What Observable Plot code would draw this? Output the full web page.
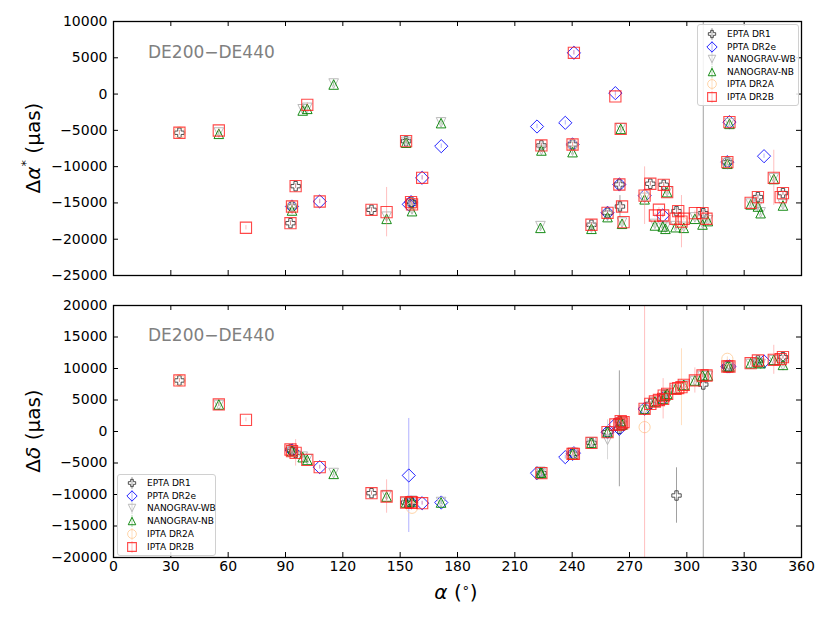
<!DOCTYPE html>
<html><head><meta charset="utf-8">
<script src="https://cdn.jsdelivr.net/npm/d3@7"></script>
<script src="https://cdn.jsdelivr.net/npm/@observablehq/plot@0.6"></script>
<style>
body{margin:0;background:#fff;font-family:"DejaVu Sans",sans-serif;}
#wrap{position:relative;width:830px;height:623px;overflow:hidden;background:#fff;}
.note{position:absolute;font-size:17px;color:#808080;white-space:nowrap;}
.ylab{position:absolute;font-size:20px;white-space:nowrap;transform:translate(-50%,-50%) rotate(-90deg);}
.xlab{position:absolute;font-size:20px;white-space:nowrap;transform:translate(-50%,-50%);}
.leg{position:absolute;background:rgba(255,255,255,0.85);border:1px solid #d0d0d0;border-radius:3px;font-size:9px;}
.leg .row{position:absolute;left:0;height:12px;line-height:12px;white-space:nowrap;}
.leg svg{position:absolute;left:6px;top:-1px;}
.leg span{position:absolute;left:29px;top:0;}
</style></head><body><div id="wrap"></div>
<script>
// ---------- data ----------
const xTicks = [0, 30, 60, 90, 120, 150, 180, 210, 240, 270, 300, 330, 360];
const yTicksTop = [-25000, -20000, -15000, -10000, -5000, 0, 5000, 10000];
const yTicksBottom = [-20000, -15000, -10000, -5000, 0, 5000, 10000, 15000, 20000];
const seriesNames = ["EPTA DR1", "PPTA DR2e", "NANOGRAV-WB", "NANOGRAV-NB", "IPTA DR2A", "IPTA DR2B"];
const panelNote = "DE200\u2212DE440";

// rows: [alpha (deg), dAlpha*, err, dDelta, err]  (uas)
const eptaDR1 = [
  [34.5, -5330, 300, 8100, 300],
  [92.6, -17790, 300, -2860, 300],
  [93.4, -15490, 300, -3120, 300],
  [95.3, -12690, 300, -3390, 300],
  [135.0, -15950, 300, -9790, 300],
  [153.1, -6490, 300, -11270, 300],
  [155.7, -14890, 300, -11270, 300],
  [156.2, -15100, 300, -11270, 300],
  [223.9, -7080, 300, -6610, 300],
  [240.2, -6950, 300, -3540, 300],
  [250.1, -18010, 300, -1800, 300],
  [258.5, -16360, 300, -100, 300],
  [264.7, -12460, 300, 430, 9200],
  [265.0, -15490, 1500, 1640, 300],
  [280.9, -12360, 300, 4390, 300],
  [287.9, -12500, 300, 5710, 300],
  [294.6, -16130, 500, -10160, 4400],
  [308.6, -16410, 60000, 7460, 60000],
  [321.2, -9380, 300, 10320, 300],
  [337.2, -14200, 300, 11270, 300],
  [350.3, -13650, 300, 11800, 300]
];
const pptaDR2e = [
  [93.4, -15490, 300, -3000, 300],
  [107.9, -14800, 300, -5660, 300],
  [154.5, -15200, 600, -6980, 9050],
  [155.7, -14890, 300, -11270, 300],
  [161.5, -11540, 300, -11380, 300],
  [171.5, -7180, 300, -11270, 300],
  [221.6, -4470, 300, -6610, 300],
  [236.4, -3960, 300, -4070, 300],
  [240.2, -6950, 300, -3540, 300],
  [240.9, 5690, 300, -3450, 300],
  [258.5, -16360, 300, -100, 300],
  [262.6, 130, 300, 1110, 300],
  [264.7, -12460, 300, 430, 300],
  [277.9, -14000, 300, 3600, 300],
  [287.4, -16730, 300, 5190, 300],
  [321.2, -9380, 300, 10320, 300],
  [322.3, -3870, 300, 10320, 300],
  [340.4, -8560, 300, 11110, 300]
];
const nanogravWB = [
  [55.1, -5300, 300, 4200, 300],
  [93.4, -15800, 300, -3000, 300],
  [99.0, -2100, 300, -4000, 300],
  [101.4, -1900, 300, -4400, 300],
  [115.2, 1450, 300, -6600, 300],
  [142.9, -16900, 500, -10100, 500],
  [153.1, -6600, 300, -11200, 300],
  [156.2, -15900, 300, -11000, 300],
  [171.4, -3900, 300, -11200, 300],
  [223.4, -18200, 300, -6400, 300],
  [223.9, -7700, 300, -6500, 300],
  [240.2, -7800, 300, -3400, 300],
  [250.1, -18400, 300, -1700, 300],
  [258.5, -16800, 300, -1320, 3170],
  [265.4, -4700, 300, 1500, 300],
  [266.1, -17700, 300, 900, 300],
  [277.9, -14300, 300, 3400, 300],
  [283.3, -17900, 300, 4600, 300],
  [287.4, -18100, 300, 5100, 300],
  [288.8, -18400, 300, 5600, 300],
  [289.7, -13400, 300, 5900, 300],
  [294.1, -18200, 300, 6600, 300],
  [298.4, -18300, 300, 7300, 300],
  [304.2, -17000, 300, 8000, 300],
  [308.2, -17800, 300, 8800, 300],
  [311.0, -17400, 300, 8800, 300],
  [321.2, -9500, 300, 10200, 300],
  [322.3, -4000, 300, 10200, 300],
  [333.4, -15100, 300, 10700, 300],
  [337.2, -15300, 300, 10900, 300],
  [338.6, -16300, 300, 10700, 300],
  [345.5, -11600, 300, 11300, 300],
  [350.3, -15200, 300, 10500, 300]
];
const nanogravNB = [
  [55.1, -5470, 300, 4290, 300],
  [93.4, -16040, 300, -3120, 300],
  [99.0, -2260, 300, -4070, 300],
  [101.4, -2030, 300, -4500, 300],
  [115.2, 1320, 300, -6720, 300],
  [142.9, -17190, 400, -10320, 400],
  [153.1, -6700, 300, -11270, 300],
  [156.2, -16130, 300, -11100, 300],
  [171.4, -4000, 300, -11270, 300],
  [223.4, -18430, 300, -6500, 300],
  [223.9, -7770, 300, -6610, 300],
  [240.2, -8000, 300, -3540, 300],
  [250.1, -18560, 300, -1800, 300],
  [258.5, -16950, 300, -100, 300],
  [265.4, -4790, 300, 1640, 300],
  [266.1, -17870, 300, 1100, 300],
  [277.9, -14500, 300, 3600, 300],
  [283.3, -18100, 300, 4760, 300],
  [287.4, -18240, 300, 5190, 300],
  [288.8, -18560, 300, 5710, 300],
  [289.7, -13510, 300, 5980, 300],
  [294.1, -18340, 300, 6770, 300],
  [298.4, -18430, 300, 7400, 300],
  [304.2, -17180, 300, 8100, 300],
  [308.2, -17970, 300, 8890, 300],
  [311.0, -17500, 300, 8890, 300],
  [321.2, -9600, 300, 10320, 300],
  [322.3, -4100, 300, 10320, 300],
  [333.4, -15200, 300, 10840, 300],
  [337.2, -15490, 300, 11000, 300],
  [338.6, -16410, 300, 10840, 300],
  [345.5, -11700, 300, 11380, 300],
  [350.3, -15350, 300, 10580, 300]
];
const iptaDR2A = [
  [34.5, -5300, 300, 8100, 300],
  [93.4, -15500, 300, -3100, 300],
  [156.2, -15100, 300, -12110, 300],
  [240.2, -7000, 300, -3500, 300],
  [277.9, -14000, 500, 690, 500],
  [297.2, -17580, 300, 7030, 6100],
  [321.2, -9400, 300, 11540, 300]
];
const iptaDR2B = [
  [34.5, -5330, 300, 8100, 300],
  [55.1, -5020, 300, 4290, 300],
  [69.3, -18420, 300, 1850, 300],
  [92.6, -17790, 300, -2860, 300],
  [93.4, -15490, 300, -3120, 300],
  [95.3, -12690, 300, -3390, 2100],
  [101.4, -1480, 300, -4500, 300],
  [107.9, -14800, 300, -5660, 300],
  [135.0, -15950, 300, -9790, 300],
  [142.9, -16270, 3400, -10320, 2650],
  [153.1, -6490, 300, -11270, 300],
  [155.7, -14890, 300, -11270, 300],
  [156.2, -15200, 300, -11270, 300],
  [161.5, -11540, 300, -11380, 300],
  [223.9, -7080, 300, -6610, 300],
  [240.2, -6950, 300, -3540, 300],
  [240.9, 5690, 300, -3540, 300],
  [250.1, -18010, 300, -1800, 300],
  [258.5, -16360, 300, -100, 300],
  [262.6, -330, 300, 1110, 300],
  [264.7, -12460, 300, 1110, 300],
  [265.4, -4790, 300, 1640, 300],
  [266.1, -15490, 300, 1300, 300],
  [266.9, -17650, 300, 1500, 300],
  [277.9, -14000, 3970, 3600, 60000],
  [280.9, -12360, 300, 4390, 300],
  [283.3, -16730, 300, 4760, 300],
  [285.4, -15940, 300, 5000, 300],
  [287.6, -16730, 300, 5190, 3200],
  [287.9, -12500, 300, 5710, 300],
  [289.7, -13510, 300, 5980, 300],
  [294.1, -17180, 300, 6770, 300],
  [295.5, -16130, 300, 6900, 300],
  [297.2, -17580, 3600, 7030, 300],
  [298.4, -17180, 300, 7400, 300],
  [304.2, -16410, 300, 8100, 2000],
  [308.2, -16410, 300, 8890, 300],
  [310.3, -17180, 300, 8890, 300],
  [321.2, -9380, 300, 10320, 300],
  [322.3, -3870, 300, 10320, 300],
  [333.4, -14980, 300, 10840, 300],
  [337.2, -14200, 300, 11270, 300],
  [345.5, -11540, 3800, 11380, 2300],
  [349.1, -14200, 300, 11500, 300],
  [350.3, -13650, 300, 11800, 300]
];

// ---------- symbols ----------
const rad = size => Math.sqrt(size / Math.PI);
const symPlus = {draw(c, size) { const r = rad(size), t = r * 0.36;
  c.moveTo(-t, -r); c.lineTo(t, -r); c.lineTo(t, -t); c.lineTo(r, -t); c.lineTo(r, t); c.lineTo(t, t);
  c.lineTo(t, r); c.lineTo(-t, r); c.lineTo(-t, t); c.lineTo(-r, t); c.lineTo(-r, -t); c.lineTo(-t, -t); c.closePath(); }};
const symDiamond = {draw(c, size) { const r = rad(size);
  c.moveTo(0, -r); c.lineTo(r, 0); c.lineTo(0, r); c.lineTo(-r, 0); c.closePath(); }};
const symTriUp = {draw(c, size) { const r = rad(size);
  c.moveTo(0, -r); c.lineTo(r, r); c.lineTo(-r, r); c.closePath(); }};
const symTriDown = {draw(c, size) { const r = rad(size);
  c.moveTo(0, r); c.lineTo(r, -r); c.lineTo(-r, -r); c.closePath(); }};
const symSquare = {draw(c, size) { const r = rad(size); c.rect(-r, -r, 2 * r, 2 * r); }};
const symCircle = {draw(c, size) { const r = rad(size); c.moveTo(r, 0); c.arc(0, 0, r, 0, 2 * Math.PI); c.closePath(); }};

const toRows = a => a.map(([ra, dA, eA, dD, eD]) => ({ra, dA, eA, dD, eD}));
const series = [
  {name: seriesNames[0], rows: toRows(eptaDR1), sym: symPlus, r: 4.7, color: "#333333", op: 0.85, sw: 1, err: "#8a8a8a", eop: 0.8},
  {name: seriesNames[1], rows: toRows(pptaDR2e), sym: symDiamond, r: 6.6, color: "#0000ff", op: 0.85, sw: 1, err: "#7070ff", eop: 0.55},
  {name: seriesNames[2], rows: toRows(nanogravWB), sym: symTriDown, r: 4.8, color: "#b4b4b4", op: 0.9, sw: 1, err: "#c8c8c8", eop: 0.7},
  {name: seriesNames[3], rows: toRows(nanogravNB), sym: symTriUp, r: 4.8, color: "#008000", op: 0.9, sw: 1, err: "#60b060", eop: 0.5},
  {name: seriesNames[4], rows: toRows(iptaDR2A), sym: symCircle, r: 5.6, color: "#ffcf9f", op: 0.9, sw: 1, err: "#ffd7b0", eop: 0.8},
  {name: seriesNames[5], rows: toRows(iptaDR2B), sym: symSquare, r: 5.6, color: "#ff1a1a", op: 0.8, sw: 1.1, err: "#ff8080", eop: 0.5}
];

const fmt = d => d < 0 ? "\u2212" + (-d) : String(d);
const ML = 113, MR = 29, W = 830;

function panel({key, ekey, domain, yticks, height, mt, mb, showX}) {
  const ph = height - mt - mb, pw = W - ML - MR;
  const marks = [];
  for (const s of series) {
    marks.push(Plot.ruleX(s.rows, {x: "ra", y1: d => d[key] - d[ekey], y2: d => d[key] + d[ekey],
      stroke: s.err, strokeOpacity: s.eop, strokeWidth: 1, clip: true}));
    marks.push(Plot.dot(s.rows, {x: "ra", y: key, symbol: s.sym, r: s.r, stroke: s.color,
      strokeOpacity: s.op, strokeWidth: s.sw, fill: "none", clip: true}));
  }
  marks.push(
    Plot.tickX(xTicks, {x: d => d, insetTop: ph - 5, stroke: "black", strokeWidth: 1}),
    Plot.tickX(xTicks, {x: d => d, insetBottom: ph - 5, stroke: "black", strokeWidth: 1}),
    Plot.tickY(yticks, {y: d => d, insetLeft: pw - 5, stroke: "black", strokeWidth: 1}),
    Plot.tickY(yticks, {y: d => d, insetRight: pw - 5, stroke: "black", strokeWidth: 1}),
    Plot.frame({stroke: "black", strokeWidth: 1.3}),
    Plot.axisY(yticks, {anchor: "left", tickSize: 0, tickPadding: 6, tickFormat: fmt, label: null})
  );
  if (showX) marks.push(Plot.axisX(xTicks, {anchor: "bottom", tickSize: 0, tickPadding: 4, tickFormat: d => String(d), label: null}));
  return Plot.plot({
    width: W, height, marginLeft: ML, marginRight: MR, marginTop: mt, marginBottom: mb,
    x: {domain: [0, 360], axis: null, label: null},
    y: {domain, axis: null, label: null},
    style: {fontFamily: "DejaVu Sans, sans-serif", fontSize: "14px", color: "black", background: "transparent", overflow: "visible"},
    marks
  });
}

const wrap = document.getElementById("wrap");
const topPanel = panel({key: "dA", ekey: "eA", domain: [-25000, 10000], yticks: yTicksTop, height: 290, mt: 21, mb: 15, showX: false});
topPanel.style.position = "absolute"; topPanel.style.left = "0px"; topPanel.style.top = "0px";
wrap.appendChild(topPanel);
const botPanel = panel({key: "dD", ekey: "eD", domain: [-20000, 20000], yticks: yTicksBottom, height: 333, mt: 15, mb: 66, showX: true});
botPanel.style.position = "absolute"; botPanel.style.left = "0px"; botPanel.style.top = "290px";
wrap.appendChild(botPanel);

function addDiv(cls, html, x, y) {
  const d = document.createElement("div"); d.className = cls; d.innerHTML = html;
  d.style.left = x + "px"; d.style.top = y + "px"; wrap.appendChild(d); return d;
}
addDiv("note", panelNote, 148, 42);
addDiv("note", panelNote, 148, 325);
addDiv("ylab", "\u0394<i>\u03b1</i><sup style='font-size:13px;position:relative;top:-3px'>*</sup> (\u03bcas)", 33, 148);
addDiv("ylab", "\u0394<i>\u03b4</i> (\u03bcas)", 33, 431);
addDiv("xlab", "<i>\u03b1</i> (<sup style='font-size:13px'>\u2218</sup>)", 456, 592);

function legend(x, y, w, h, rowH, firstY) {
  const L = document.createElement("div"); L.className = "leg";
  L.style.left = x + "px"; L.style.top = y + "px"; L.style.width = w + "px"; L.style.height = h + "px";
  series.forEach((s, i) => {
    const row = document.createElement("div"); row.className = "row";
    row.style.top = (firstY + i * rowH - 6) + "px"; row.style.width = w + "px";
    const rr = s.r * 0.78;
    const path = d3.symbol(s.sym, Math.PI * rr * rr)();
    row.innerHTML = `<svg width="16" height="14" viewBox="-8 -7 16 14"><line x1="0" x2="0" y1="-6" y2="6" stroke="${s.err}" stroke-opacity="${s.eop}"/><path d="${path}" fill="none" stroke="${s.color}" stroke-opacity="${s.op}" stroke-width="${s.sw}"/></svg><span>${s.name}</span>`;
    L.appendChild(row);
  });
  wrap.appendChild(L);
}
legend(697, 24, 100, 80, 12.6, 9);
legend(117, 474, 97, 80, 12.7, 8);
</script>
</body></html>
